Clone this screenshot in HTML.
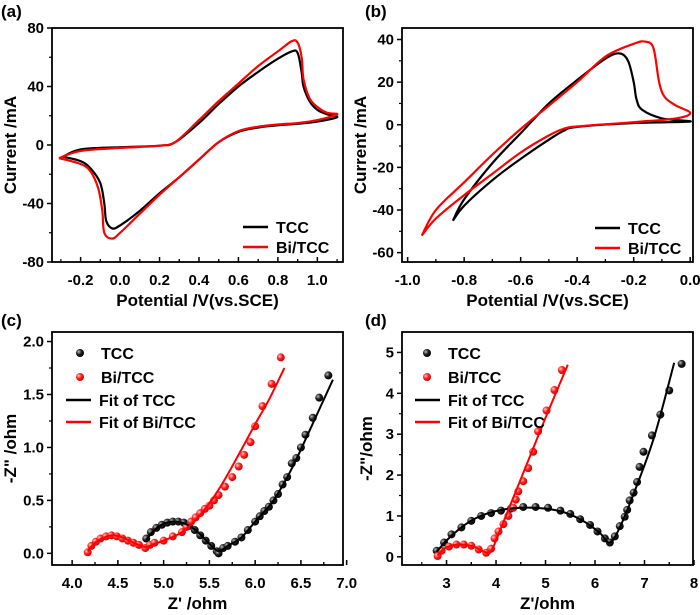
<!DOCTYPE html>
<html><head><meta charset="utf-8"><style>
body{margin:0;background:#fff;}
svg{display:block;font-family:"Liberation Sans",Arial,sans-serif;font-weight:bold;}
</style></head><body>
<svg id="fig" width="700" height="615" viewBox="0 0 700 615">
<defs>
<radialGradient id="gk" cx="35%" cy="35%" r="65%"><stop offset="0" stop-color="#bbb"/><stop offset="0.5" stop-color="#222"/><stop offset="1" stop-color="#000"/></radialGradient>
<radialGradient id="gr" cx="35%" cy="35%" r="65%"><stop offset="0" stop-color="#fcc"/><stop offset="0.5" stop-color="#f22"/><stop offset="1" stop-color="#d00"/></radialGradient>
</defs>
</svg>
<script>
// Panel (a) CV data
const aTccX=[-0.29,-0.2,0.0,0.2,0.28,0.4,0.5,0.6,0.7,0.8,0.87,0.9,0.92,0.93,0.96,1.0,1.05,1.1,1.0,0.9,0.8,0.7,0.6,0.5,0.4,0.3,0.2,0.1,0.0,-0.04,-0.07,-0.08,-0.1,-0.15,-0.2,-0.29];
const aTccY=[-8,-3,-1.5,-0.5,2,15,28,40,50,59,64,63,50,40,30,24,21,19,16,14.5,13.5,12,9,2,-10,-22,-33,-45,-55,-57,-52,-40,-26,-16,-11,-8];
const aBiX=[-0.31,-0.2,0.0,0.2,0.28,0.4,0.5,0.6,0.7,0.8,0.87,0.9,0.92,0.93,0.96,1.0,1.05,1.1,1.0,0.9,0.8,0.7,0.6,0.5,0.4,0.3,0.2,0.1,0.0,-0.04,-0.08,-0.09,-0.11,-0.15,-0.2,-0.31];
const aBiY=[-9,-4,-2,-0.5,2,17,30,42,54,64,71,70,60,45,32,26,22,21,17,15,14,12.5,9.5,2,-10,-22,-34,-47,-60,-64,-60,-45,-30,-18,-13,-9];
// Panel (b)
const bTccX=[-0.84,-0.8,-0.7,-0.6,-0.5,-0.4,-0.3,-0.25,-0.22,-0.2,-0.19,-0.17,-0.1,0.0,-0.2,-0.4,-0.45,-0.5,-0.6,-0.7,-0.8,-0.84];
const bTccY=[-45,-35,-18,-4,10,21,31,33.5,30,20,12,7,3,1.5,0.8,-1,-3,-7,-16,-26,-38,-45];
const bBiX=[-0.95,-0.9,-0.8,-0.7,-0.6,-0.5,-0.4,-0.3,-0.2,-0.16,-0.13,-0.11,-0.09,-0.05,0.0,-0.05,-0.2,-0.4,-0.45,-0.5,-0.6,-0.7,-0.8,-0.9,-0.95];
const bBiY=[-52,-40,-27,-14,-2,9,20,32,38,39,36,20,13,9,5.5,3,1.2,-0.8,-2,-5,-13,-23,-33,-44,-52];
// Panel (c) EIS
const cTccX=[4.81,4.86,4.92,4.98,5.04,5.1,5.16,5.22,5.28,5.34,5.4,5.46,5.52,5.58,5.6,5.65,5.7,5.78,5.85,5.92,6.0,6.05,6.1,6.15,6.2,6.25,6.3,6.35,6.4,6.45,6.5,6.55,6.63,6.7,6.8];
const cTccY=[0.14,0.2,0.24,0.27,0.29,0.3,0.3,0.29,0.26,0.22,0.17,0.12,0.07,0.02,0.0,0.05,0.07,0.11,0.15,0.22,0.3,0.35,0.4,0.44,0.5,0.56,0.65,0.72,0.85,0.9,1.0,1.12,1.28,1.47,1.68];
const cBiX=[4.17,4.21,4.26,4.31,4.37,4.43,4.49,4.55,4.61,4.67,4.73,4.8,4.85,4.9,5.0,5.1,5.2,5.25,5.3,5.35,5.4,5.45,5.5,5.55,5.6,5.67,5.75,5.82,5.88,5.95,6.0,6.08,6.18,6.28];
const cBiY=[0.01,0.07,0.11,0.14,0.16,0.17,0.16,0.14,0.12,0.1,0.08,0.05,0.08,0.1,0.12,0.16,0.2,0.25,0.3,0.34,0.38,0.42,0.45,0.5,0.55,0.63,0.72,0.82,0.93,1.05,1.2,1.39,1.6,1.85];
const cTccFitX=[4.81,4.9,5.0,5.1,5.2,5.3,5.4,5.5,5.6,5.7,5.85,6.0,6.2,6.4,6.6,6.85];
const cTccFitY=[0.13,0.22,0.28,0.3,0.29,0.25,0.18,0.09,0.02,0.07,0.15,0.3,0.5,0.8,1.17,1.64];
const cBiFitX=[4.17,4.25,4.35,4.45,4.55,4.65,4.8,4.9,5.0,5.2,5.4,5.6,5.8,6.0,6.15,6.32];
const cBiFitY=[0.02,0.1,0.15,0.17,0.15,0.11,0.06,0.09,0.12,0.2,0.36,0.6,0.9,1.22,1.45,1.75];
// Panel (d) EIS
const dTccX=[2.8,2.95,3.1,3.3,3.5,3.7,3.9,4.1,4.3,4.55,4.8,5.05,5.3,5.5,5.7,5.9,6.05,6.2,6.3,6.4,6.5,6.6,6.65,6.7,6.78,6.85,6.9,6.98,7.15,7.32,7.5,7.75];
const dTccY=[0.15,0.35,0.55,0.72,0.88,1.0,1.07,1.13,1.18,1.22,1.22,1.2,1.13,1.05,0.92,0.78,0.62,0.45,0.35,0.5,0.75,0.98,1.15,1.38,1.57,1.83,2.2,2.57,2.97,3.48,4.07,4.72];
const dBiX=[2.82,2.9,3.05,3.2,3.35,3.5,3.65,3.8,3.9,3.97,4.05,4.15,4.25,4.35,4.4,4.45,4.55,4.65,4.75,4.85,5.02,5.18,5.33];
const dBiY=[0.02,0.15,0.25,0.3,0.3,0.27,0.18,0.1,0.2,0.45,0.62,0.8,1.0,1.2,1.4,1.6,1.85,2.17,2.57,3.07,3.58,4.08,4.57];
const dTccFitX=[2.8,3.0,3.3,3.6,4.0,4.5,5.0,5.4,5.8,6.1,6.3,6.5,6.8,7.2,7.6];
const dTccFitY=[0.12,0.4,0.72,0.95,1.12,1.2,1.18,1.08,0.85,0.58,0.35,0.72,1.6,2.95,4.75];
const dBiFitX=[2.82,2.95,3.15,3.35,3.55,3.7,3.82,3.9,4.0,4.2,4.6,5.0,5.45];
const dBiFitY=[0.03,0.2,0.29,0.3,0.25,0.16,0.1,0.13,0.4,1.0,2.2,3.4,4.7];

const NS="http://www.w3.org/2000/svg";
const svg=document.getElementById('fig');
function mk(tag,attrs,parent){const e=document.createElementNS(NS,tag);for(const k in attrs)e.setAttribute(k,attrs[k]);(parent||svg).appendChild(e);return e;}
function txt(s,x,y,size,anchor,parent){const t=mk('text',{x:x,y:y,'font-size':size,'text-anchor':anchor||'middle'},parent);t.textContent=s;return t;}
function smooth(P){let d='M'+P[0][0].toFixed(1)+','+P[0][1].toFixed(1);
  for(let i=0;i<P.length-1;i++){const p0=P[Math.max(0,i-1)],p1=P[i],p2=P[i+1],p3=P[Math.min(P.length-1,i+2)];
    const c1=[p1[0]+(p2[0]-p0[0])/6,p1[1]+(p2[1]-p0[1])/6],c2=[p2[0]-(p3[0]-p1[0])/6,p2[1]-(p3[1]-p1[1])/6];
    d+='C'+c1[0].toFixed(1)+','+c1[1].toFixed(1)+' '+c2[0].toFixed(1)+','+c2[1].toFixed(1)+' '+p2[0].toFixed(1)+','+p2[1].toFixed(1);}
  return d;}

function panel(p){
  const g=mk('g',{});
  
  
  const sx=v=>p.L+(v-p.x0)/(p.x1-p.x0)*(p.R-p.L);
  const sy=v=>p.B-(v-p.y0)/(p.y1-p.y0)*(p.B-p.T);
  const st=(p.xt[1]-p.xt[0])/2;
  p.xt.forEach((v,i)=>{const x=sx(v);mk('line',{x1:x,x2:x,y1:p.B,y2:p.B-5,stroke:'#000','stroke-width':1.5},g);
    const t=txt(p.xl[i],x,p.B+23,15,'middle',g);
    [v-st,v+st].forEach(mv=>{const m=sx(mv);if(m<p.R-1&&m>p.L+1)mk('line',{x1:m,x2:m,y1:p.B,y2:p.B-3,stroke:'#000','stroke-width':1.2},g);});
  });
  p.yt.forEach((v,i)=>{const y=sy(v);mk('line',{x1:p.L,x2:p.L-5,y1:y,y2:y,stroke:'#000','stroke-width':1.5},g);
    const t=txt(p.yl[i],p.L-8,y+5,15,'end',g);
    const m=sy(v+(p.yt[1]-p.yt[0])/2);if(m>p.T+1&&m<p.B-1)mk('line',{x1:p.L,x2:p.L-3,y1:m,y2:m,stroke:'#000','stroke-width':1.2},g);
  });
  p.lines.forEach(s=>{const P=s.x.map((v,i)=>[sx(v),sy(s.y[i])]);
    const e=mk('path',{d:smooth(P),fill:'none',stroke:s.c,'stroke-width':2.2,'stroke-linejoin':'round'},g);
    });
  p.pts.forEach(s=>{const sg=mk('g',{},g);
    s.x.forEach((v,i)=>{const c=mk('circle',{cx:sx(v),cy:sy(s.y[i]),r:4,fill:s.f},sg);});});
  if(p.fits)p.fits.forEach(s=>{const P=s.x.map((v,i)=>[sx(v),sy(s.y[i])]);
    const e=mk('path',{d:smooth(P),fill:'none',stroke:s.c,'stroke-width':2},g);});
  const fr=mk('rect',{x:p.L,y:p.T,width:p.R-p.L,height:p.B-p.T,fill:'none',stroke:'#000','stroke-width':1.8},g);
  
  const xt=txt(p.xtitle,(p.L+p.R)/2,p.xty,17,'middle',g);
  const yt=txt(p.ytitle,0,0,17,'middle',g);yt.setAttribute('transform','translate('+p.ytx+','+((p.T+p.B)/2)+') rotate(-90)');
  
  const pl=txt(p.label,p.lx,p.ly,17,'start',g);
  p.legend.forEach(l=>{const lg=mk('g',{},g);
    if(l.type=='line')mk('line',{x1:l.x,x2:l.x+25,y1:l.y,y2:l.y,stroke:l.c,'stroke-width':2.5},lg);
    else mk('circle',{cx:l.x+12,cy:l.y,r:4,fill:l.c},lg);
    txt(l.t,l.x+33,l.y+6,16,'start',lg);});
}

panel({name:'panel-a-cv-tcc-bi',L:52,R:343,T:28,B:262,x0:-0.345,x1:1.13,y0:-80,y1:80,
  xt:[-0.2,0,0.2,0.4,0.6,0.8,1.0],xl:['-0.2','0.0','0.2','0.4','0.6','0.8','1.0'],
  yt:[-80,-40,0,40,80],yl:['-80','-40','0','40','80'],
  lines:[{x:aTccX,y:aTccY,c:'#000',n:'tcc-cv-curve'},{x:aBiX,y:aBiY,c:'#f00',n:'bi-tcc-cv-curve'}],pts:[],
  xtitle:'Potential /V(vs.SCE)',xty:306,ytitle:'Current /mA',ytx:16,label:'(a)',lx:1,ly:17,
  legend:[{type:'line',x:243,y:227,c:'#000',t:'TCC'},{type:'line',x:243,y:247,c:'#f00',t:'Bi/TCC'}]});
panel({name:'panel-b-cv-tcc-bi',L:402,R:693,T:28,B:262,x0:-1.02,x1:0.01,y0:-64.4,y1:45.4,
  xt:[-1.0,-0.8,-0.6,-0.4,-0.2,0.0],xl:['-1.0','-0.8','-0.6','-0.4','-0.2','0.0'],
  yt:[-60,-40,-20,0,20,40],yl:['-60','-40','-20','0','20','40'],
  lines:[{x:bTccX,y:bTccY,c:'#000',n:'tcc-cv-curve'},{x:bBiX,y:bBiY,c:'#f00',n:'bi-tcc-cv-curve'}],pts:[],
  xtitle:'Potential /V(vs.SCE)',xty:306,ytitle:'Current /mA',ytx:366,label:'(b)',lx:365,ly:17,
  legend:[{type:'line',x:595,y:228,c:'#000',t:'TCC'},{type:'line',x:595,y:248,c:'#f00',t:'Bi/TCC'}]});
panel({name:'panel-c-nyquist',L:52,R:343,T:332,B:565,x0:3.78,x1:6.96,y0:-0.11,y1:2.09,
  xt:[4.0,4.5,5.0,5.5,6.0,6.5,7.0],xl:['4.0','4.5','5.0','5.5','6.0','6.5','7.0'],
  yt:[0,0.5,1.0,1.5,2.0],yl:['0.0','0.5','1.0','1.5','2.0'],
  lines:[],pts:[{x:cTccX,y:cTccY,f:'url(#gk)',n:'tcc-points'},{x:cBiX,y:cBiY,f:'url(#gr)',n:'bi-tcc-points'}],
  fits:[{x:cTccFitX,y:cTccFitY,c:'#000',n:'tcc-fit-line'},{x:cBiFitX,y:cBiFitY,c:'#f00',n:'bi-tcc-fit-line'}],
  xtitle:"Z' /ohm",xty:609,ytitle:'-Z" /ohm',ytx:16,label:'(c)',lx:1,ly:326,
  legend:[{type:'pt',x:68,y:353,c:'url(#gk)',t:'TCC'},{type:'pt',x:68,y:377,c:'url(#gr)',t:'Bi/TCC'},
          {type:'line',x:66,y:400,c:'#000',t:'Fit of TCC'},{type:'line',x:66,y:422,c:'#f00',t:'Fit of Bi/TCC'}]});
panel({name:'panel-d-nyquist',L:402,R:693,T:332,B:565,x0:2.1,x1:7.98,y0:-0.2,y1:5.5,
  xt:[3,4,5,6,7,8],xl:['3','4','5','6','7','8'],
  yt:[0,1,2,3,4,5],yl:['0','1','2','3','4','5'],
  lines:[],pts:[{x:dTccX,y:dTccY,f:'url(#gk)',n:'tcc-points'},{x:dBiX,y:dBiY,f:'url(#gr)',n:'bi-tcc-points'}],
  fits:[{x:dTccFitX,y:dTccFitY,c:'#000',n:'tcc-fit-line'},{x:dBiFitX,y:dBiFitY,c:'#f00',n:'bi-tcc-fit-line'}],
  xtitle:"Z'/ohm",xty:609,ytitle:'-Z"/ohm',ytx:372,label:'(d)',lx:365,ly:326,
  legend:[{type:'pt',x:415,y:353,c:'url(#gk)',t:'TCC'},{type:'pt',x:415,y:377,c:'url(#gr)',t:'Bi/TCC'},
          {type:'line',x:415,y:400,c:'#000',t:'Fit of TCC'},{type:'line',x:415,y:422,c:'#f00',t:'Fit of Bi/TCC'}]});
</script>
</body></html>
